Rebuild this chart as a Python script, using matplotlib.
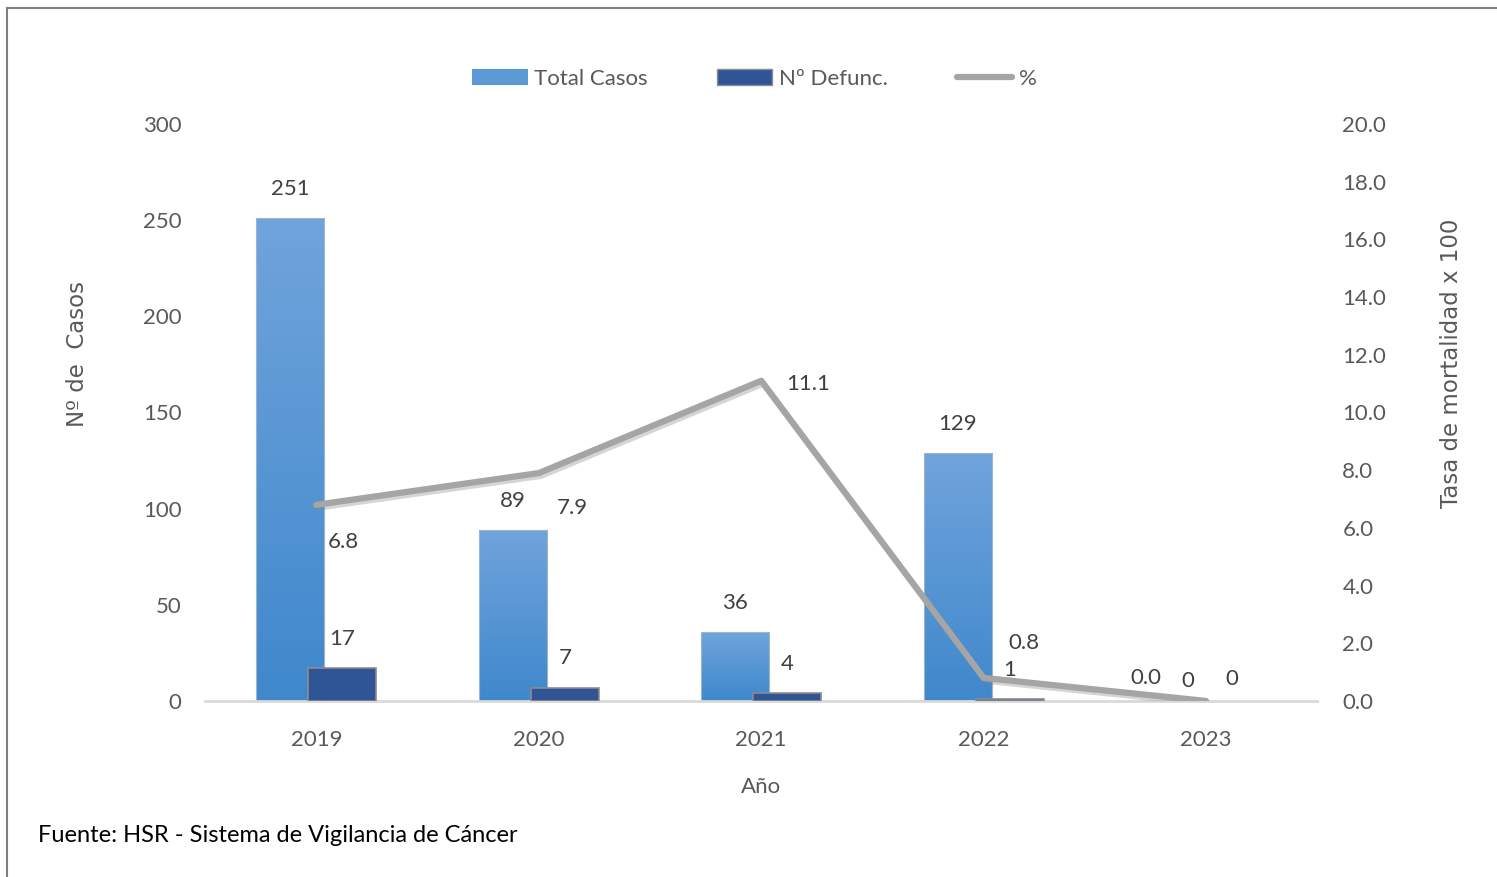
import numpy as np
import matplotlib
matplotlib.use("Agg")
import matplotlib.pyplot as plt
from matplotlib.patches import Rectangle, Patch
from matplotlib.lines import Line2D
import matplotlib.patheffects as pe

years = ["2019", "2020", "2021", "2022", "2023"]
total_casos = [251, 89, 36, 129, 0]
defunciones = [17, 7, 4, 1, 0]
tasa = [6.8, 7.9, 11.1, 0.8, 0.0]

plt.rcParams['font.family'] = ['Lato', 'DejaVu Sans']
gray_txt = '#595959'

fig = plt.figure(figsize=(14.97, 8.77), dpi=100)
ax = fig.add_axes([0.137, 0.2007, 0.743, 0.6579])
ax2 = ax.twinx()

x = np.arange(len(years))
w = 0.306
off = 0.117

# Total casos bars with a vertical gradient
grad = np.linspace(0, 1, 256).reshape(-1, 1)
cmap = matplotlib.colors.LinearSegmentedColormap.from_list('g', ['#3f88cc', '#70a4dc'])
for xi, v in zip(x, total_casos):
    if v <= 0:
        continue
    r = Rectangle((xi - off - w / 2, 0), w, v, facecolor='none', edgecolor='#9db4cc',
                  linewidth=0.8, zorder=2)
    ax.add_patch(r)
    im = ax.imshow(grad, cmap=cmap, aspect='auto', origin='lower',
                   extent=[xi - off - w / 2, xi - off + w / 2, 0, v], zorder=1.9)
    im.set_clip_path(r)
ax.set_xlim(-0.5, 4.5)
ax.set_ylim(0, 300)
ax2.set_ylim(0, 20)

ax.bar(x + off, defunciones, w, color='#2f5597', edgecolor='#8c8c8c',
       linewidth=[1.2 if v > 0 else 0 for v in defunciones], zorder=3)

ax2.plot(x, tasa, color='#a5a5a5', linewidth=4.5, solid_capstyle='round', zorder=4,
         path_effects=[pe.SimpleLineShadow(offset=(1.5, -2), shadow_color='#888888', alpha=0.35),
                       pe.Normal()])

# data labels
for xi, v in zip(x, total_casos):
    if v > 0:
        ax.text(xi - off, v + 10, str(v), ha='center', va='bottom', fontsize=16, color='#404040')
    else:
        ax.text(xi - off + 0.035, v + 5, str(v), ha='center', va='bottom', fontsize=16, color='#404040')
for xi, v in zip(x, defunciones):
    ax.text(xi + off, v + (10 if v > 0 else 6), str(v), ha='center', va='bottom',
            fontsize=16, color='#404040')
pct_pos = [(0.12, -1.3), (0.15, -1.2), (0.21, -0.1), (0.18, 1.2), (-0.27, 0.8)]
for xi, v, (dx, dy) in zip(x, tasa, pct_pos):
    ax2.text(xi + dx, v + dy, f"{v:.1f}", ha='center', va='center', fontsize=16, color='#404040')

ax.set_xticks(x)
ax.set_xticklabels(years)
ax.set_yticks(np.arange(0, 301, 50))
ax2.set_yticks(np.arange(0, 20.1, 2))
ax2.set_yticklabels([f"{t:.1f}" for t in np.arange(0, 20.1, 2)])
for a in (ax, ax2):
    a.tick_params(length=0, labelsize=16, labelcolor=gray_txt)
    for s in a.spines.values():
        s.set_visible(False)
ax.spines['bottom'].set_visible(True)
ax.spines['bottom'].set_color('#d9d9d9')
ax.spines['bottom'].set_linewidth(2)
ax.tick_params(axis='x', pad=21)
ax.tick_params(axis='y', pad=17)
ax2.tick_params(axis='y', pad=18)

ax.set_xlabel('Año', fontsize=16, color=gray_txt, labelpad=19)
fig.text(77 / 1497, 1 - 354 / 877, 'Nº de  Casos', rotation=90, fontsize=16.5, color=gray_txt,
         family='DejaVu Sans', ha='center', va='center')
fig.text(1452 / 1497, 1 - 363 / 877, 'Tasa de mortalidad x 100', rotation=90, fontsize=16.5,
         color=gray_txt, family='DejaVu Sans', ha='center', va='center')

# legend
handles = [Patch(facecolor='#5b9bd5', edgecolor='none'),
           Patch(facecolor='#2f5597', edgecolor='#8c8c8c'),
           Line2D([0], [0], color='#a5a5a5', linewidth=4.5, solid_capstyle='round')]
leg = fig.legend(handles, ['Total Casos', 'Nº Defunc.', '%'], loc='center',
                 bbox_to_anchor=(0.504, 0.91), ncol=3, frameon=False, fontsize=16,
                 handlelength=2.5, handleheight=0.7, columnspacing=3.1, handletextpad=0.3)
for t in leg.get_texts():
    t.set_color(gray_txt)

fig.text(38 / 1497, 1 - 835 / 877, 'Fuente: HSR - Sistema de Vigilancia de Cáncer',
         fontsize=17, color='black', va='center', ha='left')

fig.patches.append(Rectangle((7 / 1497, -0.1), 1.2, 1 - 8 / 877 + 0.1, transform=fig.transFigure,
                             fill=False, edgecolor='#7f7f7f', linewidth=1.5))

fig.savefig('out.png', dpi=100)
